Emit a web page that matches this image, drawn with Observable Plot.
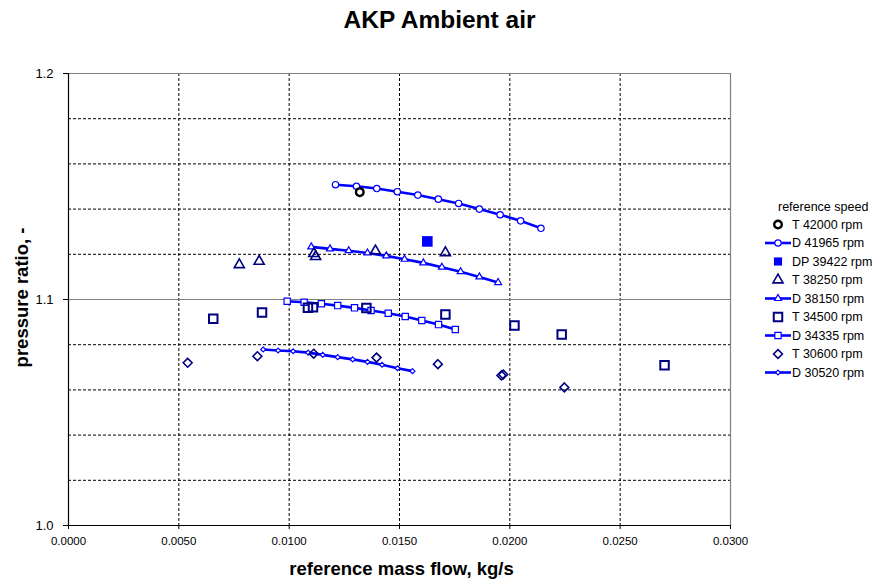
<!DOCTYPE html>
<html>
<head>
<meta charset="utf-8">
<script src="https://cdn.jsdelivr.net/npm/d3@7"></script>
<script src="https://cdn.jsdelivr.net/npm/@observablehq/plot@0.6"></script>
<style>
  html, body { margin: 0; padding: 0; background: #fff; }
  #wrap { position: relative; width: 875px; height: 581px; font-family: 'Liberation Sans', Arial, sans-serif; }
  #wrap svg { position: absolute; left: 0; top: 0; }
</style>
</head>
<body>
<div id="wrap"></div>
<script>
// ---------- data ----------
const xTicks = [0, 0.005, 0.010, 0.015, 0.020, 0.025, 0.030];
const yTicks = [1.0, 1.1, 1.2];
const xGrid = [0.005, 0.010, 0.015, 0.020, 0.025];
const yGridMinor = [1.02, 1.04, 1.06, 1.08, 1.12, 1.14, 1.16, 1.18];
const yGridMajor = [1.1, 1.2];

const t42000_x = [0.01320];
const t42000_y = [1.1475];
const d41965_x = [0.01210, 0.01305, 0.01397, 0.01490, 0.01583, 0.01676, 0.01768, 0.01862, 0.01956, 0.02049, 0.02141];
const d41965_y = [1.1508, 1.1501, 1.1491, 1.1477, 1.1462, 1.1444, 1.1425, 1.1400, 1.1375, 1.1348, 1.1315];
const dp39422_x = [0.01626];
const dp39422_y = [1.1257];
const t38250_x = [0.00774, 0.00864, 0.01112, 0.01120, 0.01391, 0.01708];
const t38250_y = [1.1154, 1.1169, 1.1203, 1.1190, 1.1215, 1.1207];
const d38150_x = [0.01100, 0.01185, 0.01270, 0.01355, 0.01440, 0.01523, 0.01608, 0.01692, 0.01777, 0.01862, 0.01947];
const d38150_y = [1.1233, 1.1224, 1.1216, 1.1206, 1.1193, 1.1178, 1.1162, 1.1143, 1.1123, 1.1100, 1.1075];
const t34500_x = [0.00656, 0.00877, 0.01085, 0.01108, 0.01350, 0.01708, 0.02021, 0.02235, 0.02701];
const t34500_y = [1.0915, 1.0942, 1.0963, 1.0966, 1.0962, 1.0934, 1.0885, 1.0845, 1.0709];
const d34335_x = [0.00991, 0.01068, 0.01146, 0.01220, 0.01296, 0.01371, 0.01449, 0.01526, 0.01601, 0.01677, 0.01753];
const d34335_y = [1.0992, 1.0988, 1.0981, 1.0973, 1.0963, 1.0951, 1.0939, 1.0925, 1.0907, 1.0889, 1.0867];
const t30600_x = [0.00540, 0.00856, 0.01111, 0.01396, 0.01674, 0.01962, 0.01970, 0.02247];
const t30600_y = [1.0720, 1.0749, 1.0760, 1.0743, 1.0714, 1.0664, 1.0668, 1.0611];
const d30520_x = [0.00882, 0.00950, 0.01018, 0.01086, 0.01152, 0.01220, 0.01288, 0.01355, 0.01421, 0.01491, 0.01559];
const d30520_y = [1.0779, 1.0774, 1.0771, 1.0765, 1.0755, 1.0745, 1.0735, 1.0724, 1.0711, 1.0696, 1.0683];

const legendTitle = "reference speed";
const seriesLabels = ["T 42000 rpm", "D 41965 rpm", "DP 39422 rpm", "T 38250 rpm", "D 38150 rpm",
                      "T 34500 rpm", "D 34335 rpm", "T 30600 rpm", "D 30520 rpm"];

// ---------- styles ----------
const BLUE = "#0000ff";
const NAVY = "#000080";
const rows = (xs, ys) => xs.map((x, i) => ({x, y: ys[i]}));

const series = [
  {label: seriesLabels[0], data: rows(t42000_x, t42000_y), line: false, symbol: "circle", r: 3.8, fill: "none", stroke: "#000", sw: 2.4},
  {label: seriesLabels[1], data: rows(d41965_x, d41965_y), line: true, symbol: "circle", r: 3.2, fill: "#fff", stroke: BLUE, sw: 1.2},
  {label: seriesLabels[2], data: rows(dp39422_x, dp39422_y), line: false, symbol: "square", r: 6, fill: BLUE, stroke: "none", sw: 0},
  {label: seriesLabels[3], data: rows(t38250_x, t38250_y), line: false, symbol: "triangle2", r: 4.8, fill: "none", stroke: NAVY, sw: 1.6},
  {label: seriesLabels[4], data: rows(d38150_x, d38150_y), line: true, symbol: "triangle2", r: 3.3, fill: "#fff", stroke: BLUE, sw: 1.2},
  {label: seriesLabels[5], data: rows(t34500_x, t34500_y), line: false, symbol: "square2", r: 5.4, fill: "none", stroke: NAVY, sw: 2},
  {label: seriesLabels[6], data: rows(d34335_x, d34335_y), line: true, symbol: "square2", r: 4, fill: "#fff", stroke: BLUE, sw: 1.2},
  {label: seriesLabels[7], data: rows(t30600_x, t30600_y), line: false, symbol: "diamond2", r: 4, fill: "none", stroke: NAVY, sw: 1.6},
  {label: seriesLabels[8], data: rows(d30520_x, d30520_y), line: true, symbol: "diamond2", r: 2.2, fill: "#fff", stroke: BLUE, sw: 1.2}
];

const marks = [
  Plot.ruleX(xGrid, {stroke: "#000", strokeDasharray: "3,2", strokeWidth: 1}),
  Plot.ruleY(yGridMinor, {stroke: "#000", strokeDasharray: "3,2", strokeWidth: 1}),
  Plot.ruleY(yGridMajor, {stroke: "#808080", strokeWidth: 1.2}),
  Plot.ruleX([0.03], {stroke: "#808080", strokeWidth: 1.2}),
  Plot.ruleX([0], {stroke: "#000", strokeWidth: 1.2}),
  Plot.ruleY([1.0], {stroke: "#000", strokeWidth: 1.2}),
  Plot.axisX({ticks: xTicks, tickFormat: d3.format(".4f"), tickSize: 4, tickPadding: 7, label: null, fontSize: 11.5}),
  Plot.axisY({ticks: yTicks, tickFormat: d3.format(".1f"), tickSize: 5, tickPadding: 10, label: null, fontSize: 13})
];
for (const s of series) if (s.line)
  marks.push(Plot.line(s.data, {x: "x", y: "y", stroke: BLUE, strokeWidth: 2.6}));
for (const s of series.filter(d => d.line))
  marks.push(Plot.dot(s.data, {x: "x", y: "y", symbol: () => s.symbol, r: s.r, fill: s.fill, stroke: s.stroke, strokeWidth: s.sw}));
for (const s of series.filter(d => !d.line))
  marks.push(Plot.dot(s.data, {x: "x", y: "y", symbol: () => s.symbol, r: s.r, fill: s.fill, stroke: s.stroke, strokeWidth: s.sw}));

marks.push(
  Plot.text(["AKP Ambient air"], {frameAnchor: "top", lineAnchor: "middle", textAnchor: "middle", dx: 40, dy: -53, fontSize: 24.5, fontWeight: "bold"}),
  Plot.text(["reference mass flow, kg/s"], {frameAnchor: "bottom", lineAnchor: "middle", textAnchor: "middle", dx: 2, dy: 44, fontSize: 18.5, fontWeight: "bold"}),
  Plot.text(["pressure ratio, -"], {frameAnchor: "left", lineAnchor: "middle", textAnchor: "middle", dx: -46, dy: -2, rotate: -90, fontSize: 18.5, fontWeight: "bold"})
);

const chart = Plot.plot({
  width: 875, height: 581,
  marginLeft: 68, marginRight: 145, marginTop: 73, marginBottom: 56,
  x: {domain: [0, 0.03]},
  y: {domain: [1.0, 1.2]},
  symbol: {type: "identity"},
  style: {fontFamily: "'Liberation Sans', Arial, sans-serif", fontSize: "11.5px", color: "#000", background: "#fff", overflow: "visible"},
  marks
});
document.getElementById("wrap").appendChild(chart);

// ---------- legend ----------
const symMap = {circle: d3.symbolCircle, square: d3.symbolSquare, triangle2: d3.symbolTriangle2, square2: d3.symbolSquare2, diamond2: d3.symbolDiamond2};
const leg = d3.select("#wrap").append("svg")
  .attr("width", 875).attr("height", 581)
  .style("pointer-events", "none")
  .attr("font-family", "'Liberation Sans', Arial, sans-serif");
leg.append("text").attr("x", 778).attr("y", 207).attr("dy", "0.35em")
  .attr("font-size", 12.5).text(legendTitle);
series.forEach((s, i) => {
  const cy = 224.5 + i * 18.5;
  const g = leg.append("g");
  if (s.line) g.append("line").attr("x1", 765).attr("x2", 791).attr("y1", cy).attr("y2", cy)
    .attr("stroke", BLUE).attr("stroke-width", 2.6);
  const rr = s.symbol === "square" ? 4.6 : s.r;
  g.append("path").attr("transform", `translate(778,${cy})`)
    .attr("d", d3.symbol(symMap[s.symbol], Math.PI * rr * rr)())
    .attr("fill", s.fill).attr("stroke", s.stroke).attr("stroke-width", s.sw);
  g.append("text").attr("x", 792).attr("y", cy).attr("dy", "0.35em")
    .attr("font-size", 12.5).text(s.label);
});
</script>
</body>
</html>
